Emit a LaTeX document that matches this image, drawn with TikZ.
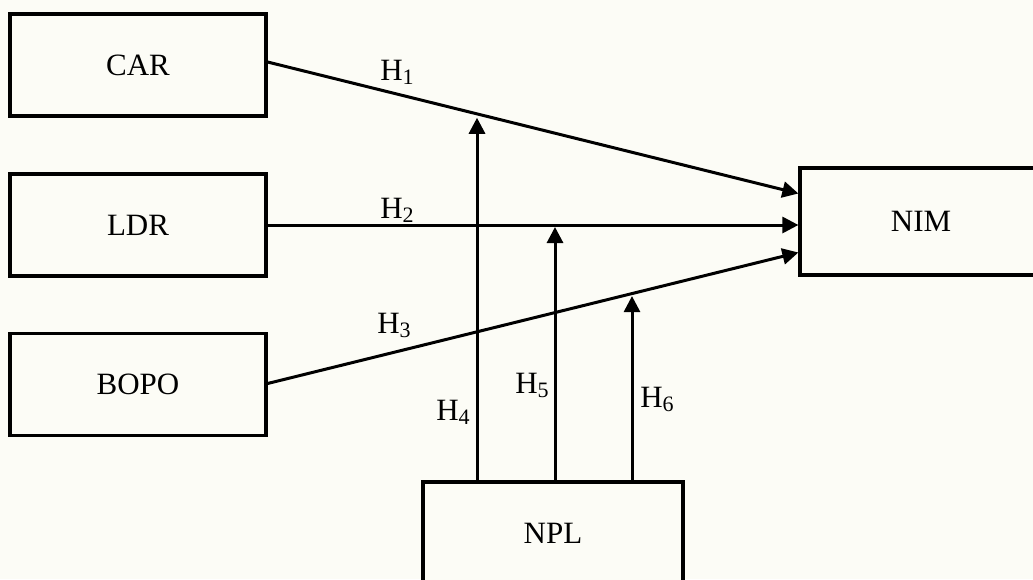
\documentclass[tikz,border=0pt]{standalone}
\usepackage{fontspec}
\setmainfont{Liberation Serif}
\usetikzlibrary{arrows.meta,calc}
\definecolor{paper}{RGB}{252,252,246}
\tikzset{
  varbox/.style={draw=black, line width=3.2pt, fill=paper, minimum width=256pt,
    minimum height=102pt, inner sep=0pt, font=\fontsize{31}{37}\selectfont},
  link/.style={line width=3pt, -{Triangle[width=16pt,length=16pt]}},
  hyp/.style={inner sep=0pt, font=\fontsize{31}{37}\selectfont},
}
\newcommand{\hsub}[1]{H\raisebox{-4pt}{\fontsize{22}{22}\selectfont #1}}
\begin{document}
\begin{tikzpicture}[x=1pt,y=-1pt]
  \fill[paper] (0,0) rectangle (1033,579);
  \useasboundingbox (0,0) rectangle (1033,579);

  % variable boxes
  \node[varbox] (CAR)  at (138,65)    {CAR};
  \node[varbox] (LDR)  at (138,225)   {LDR};
  \node[varbox] (BOPO) at (138,384.5) {BOPO};
  \node[varbox, minimum width=242pt, minimum height=107pt] (NIM) at (921,221.5) {NIM};
  \node[varbox, minimum width=260pt] (NPL) at (553,533) {NPL};

  % arrow ends on the NIM box
  \coordinate (nA) at ($(NIM.west)+(0,-28)$);
  \coordinate (nC) at ($(NIM.west)+(0,31)$);

  % direct effects
  \draw[link] ($(CAR.east)+(0,-3)$) -- (nA);
  \draw[link] (LDR.east) -- (LDR.east -| NIM.west);
  \draw[link] ($(BOPO.east)+(0,-1)$) -- (nC);

  % points where the moderating arrows meet the direct paths
  \coordinate (m1) at ($(CAR.east)!0.395!(nA)$);
  \coordinate (m2) at ($(LDR.east)!0.541!(LDR.east -| NIM.west)$);
  \coordinate (m3) at ($(BOPO.east)!0.685!(nC)$);

  % moderating effects of NPL
  \coordinate (s1) at ($(NPL.north)+(-76,0)$);
  \coordinate (s2) at ($(NPL.north)+(2,0)$);
  \coordinate (s3) at ($(NPL.north)+(79,0)$);
  \draw[link, shorten >=2pt] (s1) -- (s1 |- m1);
  \draw[link, shorten >=2pt] (s2) -- (s2 |- m2);
  \draw[link, shorten >=2pt] (s3) -- (s3 |- m3);

  % hypothesis labels
  \node[hyp] (h1) at (397,72)  {\hsub{1}};
  \node[hyp] (h2) at (397,210) {\hsub{2}};
  \node[hyp] (h3) at (394,325) {\hsub{3}};
  \node[hyp] (h4) at (453,412) {\hsub{4}};
  \node[hyp] (h5) at (532,385) {\hsub{5}};
  \node[hyp] (h6) at (657,399) {\hsub{6}};
\end{tikzpicture}
\end{document}
